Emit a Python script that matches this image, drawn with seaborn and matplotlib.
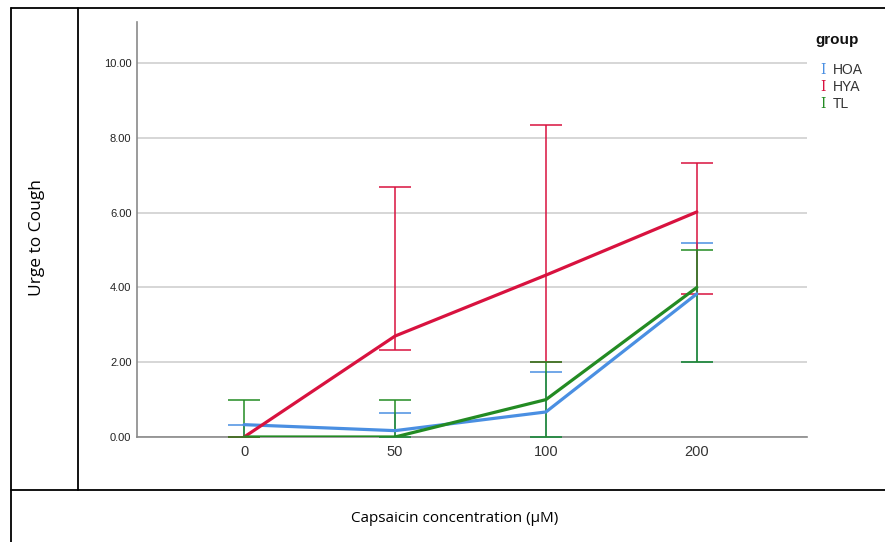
import numpy as np
import pandas as pd
import matplotlib
matplotlib.use("Agg")
import matplotlib.pyplot as plt
import seaborn as sns
from matplotlib.lines import Line2D

# capsaicin concentrations (uM) shown as categories
concentrations = ["0", "50", "100", "200"]
groups = ["HOA", "HYA", "TL"]

# mean urge-to-cough and error bar limits
hoa_mean = [0.33, 0.17, 0.67, 3.83]
hoa_low = [0.00, 0.00, 0.00, 2.00]
hoa_high = [0.33, 0.65, 1.73, 5.19]

hya_mean = [0.00, 2.70, 4.33, 6.02]
hya_low = [0.00, 2.33, 2.00, 3.82]
hya_high = [0.00, 6.68, 8.34, 7.33]

tl_mean = [0.00, 0.00, 1.00, 4.00]
tl_low = [0.00, 0.00, 0.00, 2.00]
tl_high = [1.00, 1.00, 2.00, 5.00]

colors = {"HOA": "#4a8fe2", "HYA": "#d8123f", "TL": "#238b23"}

rows = []
for g, m, lo, hi in [("HOA", hoa_mean, hoa_low, hoa_high),
                     ("HYA", hya_mean, hya_low, hya_high),
                     ("TL", tl_mean, tl_low, tl_high)]:
    for c, mv, lv, hv in zip(concentrations, m, lo, hi):
        rows.append({"conc": c, "group": g, "mean": mv, "low": lv, "high": hv})
df = pd.DataFrame(rows)

sns.set_style("white")
plt.rcParams["font.family"] = ["Liberation Sans", "DejaVu Sans"]

fig = plt.figure(figsize=(8.85, 5.42), dpi=100)
ax = fig.add_axes([137 / 885, 1 - 437 / 542, (807 - 137) / 885, (437 - 22) / 542])

# error bars first, lines on top
for g in groups:
    sub = df[df.group == g]
    pos = [concentrations.index(c) for c in sub.conc]
    ax.errorbar(pos, sub["mean"], yerr=[sub["mean"] - sub["low"], sub["high"] - sub["mean"]],
                fmt="none", ecolor=colors[g], elinewidth=1.1, capsize=11.5, capthick=1.1,
                zorder=3)

sns.pointplot(data=df, x="conc", y="mean", hue="group", order=concentrations,
              hue_order=groups, palette=colors, markers="", linestyles="-",
              errorbar=None, linewidth=2.3, ax=ax, legend=False, zorder=4)

ax.set_xlim(-0.71, 3.73)
ax.set_ylim(0, 11.1)
ax.set_yticks(np.arange(0, 11, 2))
ax.set_yticklabels([f"{v:.2f}" for v in np.arange(0, 11, 2)], fontsize=8, color="#222222")
ax.tick_params(axis="x", labelsize=10.5, colors="#333333", length=0, pad=6)
ax.tick_params(axis="y", length=0, pad=4)
ax.yaxis.grid(True, color="#cfcfcf", linewidth=1.2)
ax.set_axisbelow(True)
for s in ["top", "right"]:
    ax.spines[s].set_visible(False)
for s in ["left", "bottom"]:
    ax.spines[s].set_color("#8a8a8a")
    ax.spines[s].set_linewidth(1.2)
ax.set_xlabel("")
ax.set_ylabel("")

# legend drawn as text, like the SPSS one
fig.text(815 / 885, 1 - 40 / 542, "group", fontsize=11, weight="bold", va="center", color="#111111")
for i, g in enumerate(groups):
    yy = 1 - (70 + 17 * i) / 542
    fig.text(823 / 885, yy, "I", fontsize=10, family="DejaVu Serif", color=colors[g],
             ha="center", va="center")
    fig.text(833 / 885, yy, g, fontsize=10, color="#333333", va="center")

# table-like frame around the chart
lc = "black"
fig.add_artist(Line2D([11 / 885, 1], [1 - 8 / 542] * 2, color=lc, lw=1.3, transform=fig.transFigure))
fig.add_artist(Line2D([11 / 885] * 2, [0, 1 - 8 / 542], color=lc, lw=1.3, transform=fig.transFigure))
fig.add_artist(Line2D([78 / 885] * 2, [1 - 490 / 542, 1 - 8 / 542], color=lc, lw=1.3, transform=fig.transFigure))
fig.add_artist(Line2D([11 / 885, 1], [1 - 490 / 542] * 2, color=lc, lw=1.3, transform=fig.transFigure))

fig.text(37 / 885, 1 - 238 / 542, "Urge to Cough", rotation=90, ha="center", va="center",
         fontsize=12.5, color="black", family=["Open Sans", "DejaVu Sans"])
fig.text(455 / 885, 1 - 519 / 542, "Capsaicin concentration (\u00b5M)", ha="center", va="center",
         fontsize=11, color="black", family=["Open Sans", "DejaVu Sans"])

fig.savefig("out.png", dpi=100)
